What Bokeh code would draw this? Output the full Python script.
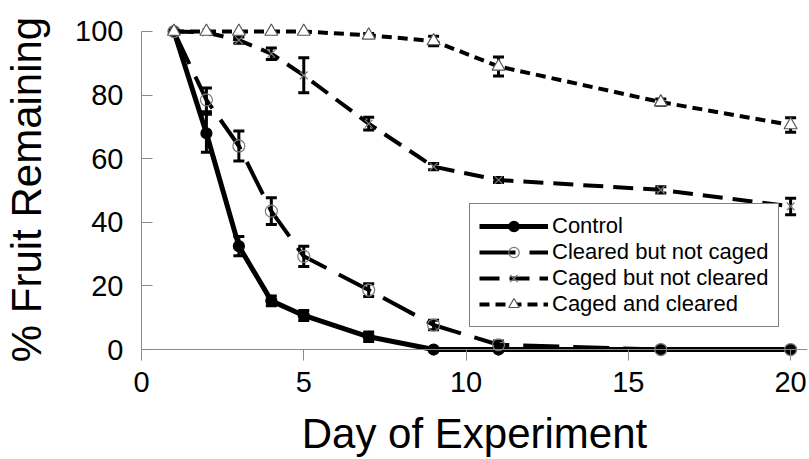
from bokeh.plotting import figure
from bokeh.models import (Range1d, Whisker, TeeHead, ColumnDataSource, Legend,
                          LegendItem, Span, FixedTicker)
from bokeh.embed import file_html
from bokeh.resources import INLINE

# ---- data ----
days = [1, 2, 3, 4, 5, 7, 9, 11, 16, 20]
control = [100, 68, 32.5, 15.3, 10.7, 4, 0, 0, 0, 0]
control_err = [0, 6, 3, 1.5, 1.6, 1.5, 0, 0, 0, 0]
cleared = [100, 78.5, 64, 43.5, 29.3, 18.7, 7.7, 1.5, 0, 0]
cleared_err = [0, 3.7, 4.7, 4.2, 3.2, 2, 1.5, 1.2, 0, 0]
caged = [100, 99.7, 97.3, 93, 86.2, 71, 57.5, 53.3, 50.2, 45]
caged_err = [0, 0, 1, 1.8, 5.5, 2, 1, 0.8, 1, 2.6]
caged_cleared = [100, 100, 100, 100, 100, 98.8, 97, 89, 77.8, 70.6]
caged_cleared_err = [0, 0, 0, 0, 0, 0.6, 1.5, 3, 1, 2.3]

series_names = ["Control", "Cleared but not caged", "Caged but not cleared", "Caged and cleared"]
x_ticks = [0, 5, 10, 15, 20]
y_ticks = [0, 20, 40, 60, 80, 100]

FONT = "Liberation Sans"
AXIS_GRAY = "#8a8a8a"

p = figure(width=809, height=459, output_backend="svg", toolbar_location=None,
           x_range=Range1d(0, 20.52), y_range=Range1d(-3.45, 104.08),
           min_border_left=137, min_border_right=2, min_border_top=18,
           min_border_bottom=98)
p.outline_line_color = None
p.xgrid.visible = False
p.ygrid.visible = False

# axes
xa = p.xaxis[0]
xa.ticker = FixedTicker(ticks=x_ticks)
xa.axis_line_color = None
xa.major_tick_in = 11
xa.major_tick_out = 0
xa.major_tick_line_color = AXIS_GRAY
xa.minor_tick_line_color = None
xa.major_label_standoff = 11
xa.major_label_text_font = FONT
xa.major_label_text_font_size = "29px"
xa.major_label_text_color = "black"
xa.axis_label = "Day of Experiment"
xa.axis_label_text_font = FONT
xa.axis_label_text_font_size = "42px"
xa.axis_label_text_font_style = "normal"
xa.axis_label_text_color = "black"
xa.axis_label_standoff = 15

ya = p.yaxis[0]
ya.ticker = FixedTicker(ticks=y_ticks)
ya.bounds = (0, 100)
ya.axis_line_color = AXIS_GRAY
ya.major_tick_in = 11
ya.major_tick_out = 0
ya.major_tick_line_color = AXIS_GRAY
ya.minor_tick_line_color = None
ya.major_label_standoff = 18
ya.major_label_text_font = FONT
ya.major_label_text_font_size = "29px"
ya.major_label_text_color = "black"
ya.axis_label = "% Fruit Remaining"
ya.axis_label_text_font = FONT
ya.axis_label_text_font_size = "42px"
ya.axis_label_text_font_style = "normal"
ya.axis_label_text_color = "black"
ya.axis_label_standoff = 22

p.add_layout(Span(location=0, dimension="width", line_color=AXIS_GRAY, line_width=1))

# series
styles = [
    dict(vals=control, err=control_err, dash="solid", lw=5, marker="circle",
         size=11, fill="black", mline="black"),
    dict(vals=cleared, err=cleared_err, dash="36 14", lw=4, marker="circle",
         size=12, fill=None, mline="#7a7a7a"),
    dict(vals=caged, err=caged_err, dash="20 10", lw=4, marker="x",
         size=11, fill=None, mline="#7a7a7a"),
    dict(vals=caged_cleared, err=caged_cleared_err, dash="10 6", lw=4, marker="triangle",
         size=13, fill="white", mline="#555555"),
]

items = []
for name, st in zip(series_names, styles):
    src = ColumnDataSource(dict(x=days, y=st["vals"]))
    ln = p.line("x", "y", source=src, line_color="black", line_width=st["lw"],
                line_dash=st["dash"], line_join="round")
    sc = p.scatter("x", "y", source=src, marker=st["marker"], size=st["size"],
                   fill_color=st["fill"], line_color=st["mline"], line_width=1.2)
    xs = [d for d, e in zip(days, st["err"]) if e > 0]
    lo = [v - e for v, e in zip(st["vals"], st["err"]) if e > 0]
    hi = [v + e for v, e in zip(st["vals"], st["err"]) if e > 0]
    wsrc = ColumnDataSource(dict(x=xs, lower=lo, upper=hi))
    w = Whisker(source=wsrc, base="x", lower="lower", upper="upper",
                line_color="black", line_width=3,
                upper_head=TeeHead(size=11, line_width=3, line_color="black"),
                lower_head=TeeHead(size=11, line_width=3, line_color="black"))
    p.add_layout(w)
    items.append(LegendItem(label=name, renderers=[ln, sc]))

legend = Legend(items=items, location=(328, 33), orientation="vertical",
                label_text_font=FONT, label_text_font_size="22px",
                label_text_color="black", glyph_width=69, glyph_height=26,
                label_height=26, label_standoff=4, spacing=0, padding=9,
                margin=0, border_line_color="black", border_line_width=1.5,
                background_fill_color="white", background_fill_alpha=1)
p.add_layout(legend, "center")

open("out.html", "w").write(file_html(p, INLINE))
